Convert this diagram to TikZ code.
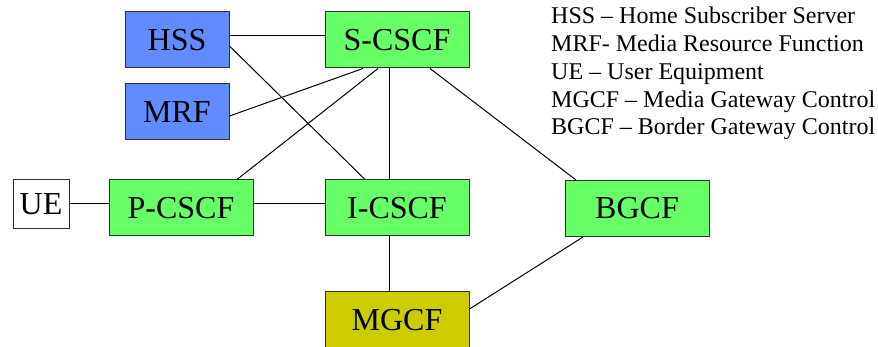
\documentclass[tikz,border=0pt]{standalone}
\usepackage{fontspec}
\setmainfont{Liberation Serif}
\usetikzlibrary{calc}
\definecolor{boxblue}{RGB}{96,140,255}
\definecolor{boxgreen}{RGB}{102,255,102}
\definecolor{boxolive}{RGB}{204,204,0}
\definecolor{boxedge}{RGB}{50,50,50}
\tikzset{
  unit/.style={draw=boxedge, line width=1pt, inner sep=0pt, font=\fontsize{32}{34}\selectfont},
  wide/.style={unit, minimum width=144pt, minimum height=56pt},
  narrow/.style={unit, minimum width=104pt, minimum height=56pt},
  link/.style={draw=black, line width=1pt},
  legend/.style={anchor=base west, inner sep=0pt, font=\fontsize{24}{27.7}\selectfont}
}
\begin{document}
\begin{tikzpicture}[x=1pt,y=-1pt]
\useasboundingbox (0,0) rectangle (878,347);
\node[narrow, fill=boxblue] (hss) at (177,40) {HSS};
\node[wide, fill=boxgreen] (scscf) at (397,40) {S-CSCF};
\node[narrow, fill=boxblue] (mrf) at (177,112) {MRF};
\node[unit, fill=white, minimum width=56pt, minimum height=49pt] (ue) at (41,204.5) {UE};
\node[wide, fill=boxgreen] (pcscf) at (181,208) {P-CSCF};
\node[wide, fill=boxgreen] (icscf) at (397,208) {I-CSCF};
\node[wide, fill=boxgreen] (bgcf) at (637,208.5) {BGCF};
\node[wide, fill=boxolive] (mgcf) at (397,320) {MGCF};

\draw[link] ($(hss.east)+(0,-4)$) -- ($(scscf.west)+(0,-4)$);
\draw[link] ($(hss.east)+(0,6)$) -- ($(icscf.north)+(-32,0)$);
\draw[link] ($(mrf.east)+(0,4)$) -- ($(scscf.south)+(-34,0)$);
\draw[link] ($(scscf.south)+(-19,0)$) -- ($(pcscf.north)+(56,0)$);
\draw[link] ($(scscf.south)+(-8,0)$) -- ($(icscf.north)+(-8,0)$);
\draw[link] ($(scscf.south)+(33,0)$) -- ($(bgcf.north)+(-61,0)$);
\draw[link] ($(ue.east)+(0,-0.5)$) -- ($(pcscf.west)+(0,-4)$);
\draw[link] ($(pcscf.east)+(0,-4)$) -- ($(icscf.west)+(0,-4)$);
\draw[link] ($(icscf.south)+(-8,0)$) -- ($(mgcf.north)+(-8,0)$);
\draw[link] ($(mgcf.east)+(0,-11)$) -- ($(bgcf.south)+(-54,0)$);

\node[legend] (l1) at (551,24) {HSS – Home Subscriber Server};
\node[legend] (l2) at (551,51.7) {MRF- Media Resource Function};
\node[legend] (l3) at (551,79.4) {UE – User Equipment};
\node[legend] (l4) at (551,107.1) {MGCF – Media Gateway Control};
\node[legend] (l5) at (551,134.8) {BGCF – Border Gateway Control};
\end{tikzpicture}
\end{document}
